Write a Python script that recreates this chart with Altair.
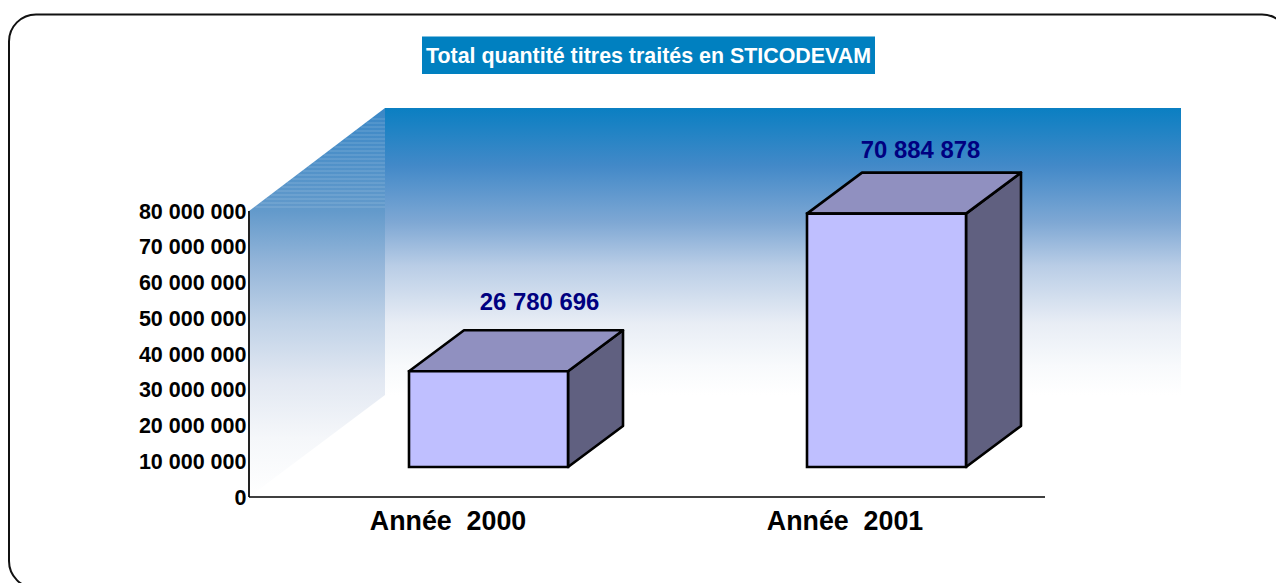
import altair as alt
import pandas as pd

# ---- chart values ----
years = ["Année\u00a0\u00a02000", "Année\u00a0\u00a02001"]
quantities = [26780696, 70884878]
quantity_labels = ["26 780 696", "70 884 878"]
tick_values = [0, 10000000, 20000000, 30000000, 40000000, 50000000, 60000000, 70000000, 80000000]
title_text = "Total quantité titres traités en STICODEVAM"

# ---- layout (page pixels) ----
W, H = 1268, 575
PX_PER_UNIT = 286 / 80000000
ZERO_Y = 497
def val(py):
    return (ZERO_Y - py) / PX_PER_UNIT

X_SCALE = alt.Scale(domain=[8, 8 + W], range=[0, W], nice=False, zero=False)
Y_SCALE = alt.Scale(domain=[val(8 + H), val(8)], range=[H, 0], nice=False, zero=False)
X = lambda f="x": alt.X(f"{f}:Q", scale=X_SCALE, axis=None)
Y = lambda f="y": alt.Y(f"{f}:Q", scale=Y_SCALE, axis=None)
X2 = lambda f="x2": alt.X2(f"{f}:Q")
Y2 = lambda f="y2": alt.Y2(f"{f}:Q")

stops = [(0, "#0a7fc2"), (0.2, "#4289c8"), (0.4, "#7fa8d4"), (0.55, "#b9cde6"),
         (0.75, "#e8edf5"), (0.9, "#f8fafc"), (1, "#ffffff")]
grad = alt.Gradient(gradient="linear", x1=0, x2=0, y1=0, y2=1,
                    stops=[alt.GradientStop(offset=o, color=c) for o, c in stops])

side_stops = [(0, "#3a87c6"), (0.265, "#639acb"), (0.4, "#94b5d9"), (0.55, "#c0d2e7"),
              (0.7, "#e2e8f2"), (0.85, "#f5f7fa"), (1, "#ffffff")]
side_grad = alt.Gradient(gradient="linear", x1=0, x2=0, y1=0, y2=1,
                         stops=[alt.GradientStop(offset=o, color=c) for o, c in side_stops])

layers = []

# frame
layers.append(alt.Chart(pd.DataFrame([{"x": 9, "x2": 1289, "y": val(14.5), "y2": val(588)}])).mark_rect(
    fill="white", stroke="#111111", strokeWidth=2, cornerRadius=27, clip=True
).encode(x=X(), x2=X2(), y=Y(), y2=Y2()))

# back wall
layers.append(alt.Chart(pd.DataFrame([{"x": 385, "x2": 1181, "y": val(108), "y2": val(395)}])).mark_rect(
    color=grad).encode(x=X(), x2=X2(), y=Y(), y2=Y2()))

# side wall
side = pd.DataFrame({"x": [249, 385], "y": [val(211), val(108)], "y2": [val(497), val(395)]})
layers.append(alt.Chart(side).mark_area(color=side_grad, orient="vertical").encode(x=X(), y=Y(), y2=Y2()))

# stripes on the upper part of the side wall
stripe_rows = []
for py in range(207, 116, -4):
    stripe_rows.append({"x": 249 + (211 - py) * 136 / 103 + 1, "x2": 385, "y": val(py)})
layers.append(alt.Chart(pd.DataFrame(stripe_rows)).mark_rule(color="white", opacity=0.2, strokeWidth=1).encode(
    x=X(), x2=X2(), y=Y()))

# y axis (labels)
axis_df = pd.DataFrame({"v": tick_values})
layers.append(alt.Chart(axis_df).mark_point(opacity=0).encode(
    y=alt.Y("v:Q", scale=Y_SCALE, axis=alt.Axis(
        values=tick_values, orient="left", offset=-241, domain=False, ticks=False, grid=False, title=None,
        labelFont="Liberation Sans", labelFontWeight="bold", labelFontSize=21.5, labelColor="#000000",
        labelPadding=3, labelOffset=1, labelExpr="join(split(format(datum.value, ','), ','), ' ')",
        labelOverlap=False, zindex=1))))

# axis lines
layers.append(alt.Chart(pd.DataFrame([{"x": 249, "y": 0, "y2": tick_values[-1]}])).mark_rule(
    color="#222222", strokeWidth=2).encode(x=X(), y=Y(), y2=Y2()))
layers.append(alt.Chart(pd.DataFrame([{"x": 249, "x2": 1045, "y": 0}])).mark_rule(
    color="#000000", strokeWidth=1.5).encode(x=X(), x2=X2(), y=Y()))

# 3-D bars
BAR_LEFT = [409, 807]
BAR_W = 159
DX, DY = 55, 41 / PX_PER_UNIT
BASE = 30 / PX_PER_UNIT
LW = 2.6
for left, q in zip(BAR_LEFT, quantities):
    right = left + BAR_W
    top = BASE + q
    face_top = pd.DataFrame({"x": [left, left + DX, right, right + DX],
                             "y": [top, top + DY, top + DY, top + DY],
                             "y2": [top, top, top, top + DY]})
    face_side = pd.DataFrame({"x": [right, right + DX], "y": [top, top + DY], "y2": [BASE, BASE + DY]})
    face_front = pd.DataFrame([{"x": left, "x2": right, "y": top, "y2": BASE}])
    layers.append(alt.Chart(face_side).mark_area(fill="#606080", stroke="black", strokeWidth=LW,
                                                 strokeJoin="round", orient="vertical").encode(x=X(), y=Y(), y2=Y2()))
    layers.append(alt.Chart(face_top).mark_area(fill="#9090C0", stroke="black", strokeWidth=LW,
                                                strokeJoin="round", orient="vertical").encode(x=X(), y=Y(), y2=Y2()))
    layers.append(alt.Chart(face_front).mark_rect(fill="#BFBFFF", stroke="black", strokeWidth=LW).encode(
        x=X(), x2=X2(), y=Y(), y2=Y2()))

# value labels
lab = pd.DataFrame({"x": [539.5, 920.5], "y": [val(303), val(151)], "t": quantity_labels})
layers.append(alt.Chart(lab).mark_text(font="Liberation Sans", fontWeight="bold", fontSize=23.9, color="#000080",
                                       baseline="middle", align="center").encode(x=X(), y=Y(), text="t:N"))

# category labels
cat = pd.DataFrame({"x": [448, 845], "y": [val(522), val(522)], "t": years})
layers.append(alt.Chart(cat).mark_text(font="Liberation Sans", fontWeight="bold", fontSize=26.8, color="#000000",
                                       baseline="middle", align="center").encode(x=X(), y=Y(), text="t:N"))

# title box
layers.append(alt.Chart(pd.DataFrame([{"x": 422, "x2": 875, "y": val(36.5), "y2": val(74)}])).mark_rect(
    fill="#0080C0").encode(x=X(), x2=X2(), y=Y(), y2=Y2()))
layers.append(alt.Chart(pd.DataFrame([{"x": 648.5, "y": val(57), "t": title_text}])).mark_text(
    font="Liberation Sans", fontWeight="bold", fontSize=21.4, color="white", baseline="middle", align="center"
).encode(x=X(), y=Y(), text="t:N"))

chart = alt.layer(*layers).properties(
    width=W, height=H, padding=0, autosize=alt.AutoSizeParams(type="none"), background="white"
).resolve_axis(y="independent").configure_view(stroke=None)

chart.save("out.html", embed_options={"renderer": "svg", "actions": False})
